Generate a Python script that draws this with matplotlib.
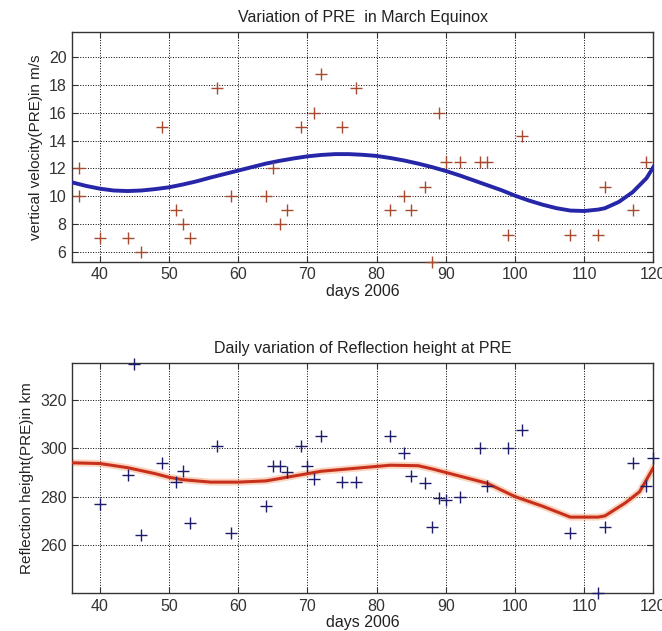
import matplotlib
matplotlib.use("Agg")
import matplotlib.pyplot as plt

plt.rcParams['font.family'] = ['Liberation Sans', 'DejaVu Sans']
plt.rcParams['font.size'] = 11

# PRE vertical velocity (m/s) per day
vel_days = [37, 37, 40, 44, 46, 49, 51, 52, 53, 57, 59, 64, 65, 66, 67, 69, 71, 72,
            75, 77, 82, 84, 85, 87, 88, 89, 90, 92, 95, 96, 99, 101, 108, 112, 113,
            117, 119]
vel_vals = [12, 10, 7, 7, 6, 15, 9, 8, 7, 17.8, 10, 10, 12, 8, 9, 15, 16, 18.8,
            15, 17.8, 9, 10, 9, 10.7, 5.3, 16, 12.5, 12.5, 12.5, 12.5, 7.2, 14.3, 7.2,
            7.2, 10.7, 9, 12.5]

# fitted trend of the velocity
vel_fit_days = [36, 38, 40, 42, 44, 46, 48, 50, 52, 54, 56, 58, 60, 62, 64, 66, 68,
                70, 72, 74, 76, 78, 80, 82, 84, 86, 88, 90, 92, 94, 96, 98, 100, 102,
                104, 106, 108, 110, 112, 113, 115, 117, 119, 120]
vel_fit_vals = [11.0, 10.75, 10.55, 10.42, 10.38, 10.42, 10.52, 10.65, 10.85, 11.08,
                11.35, 11.6, 11.85, 12.1, 12.35, 12.55, 12.72, 12.87, 12.97, 13.03,
                13.03, 12.98, 12.9, 12.75, 12.57, 12.35, 12.1, 11.82, 11.5, 11.15,
                10.8, 10.45, 10.05, 9.7, 9.4, 9.15, 8.98, 8.95, 9.05, 9.15, 9.6, 10.3,
                11.3, 12.1]

# reflection height (km) per day
hgt_days = [40, 44, 45, 46, 49, 51, 52, 53, 57, 59, 64, 65, 66, 67, 69, 70, 71, 72,
            75, 77, 82, 84, 85, 87, 88, 89, 90, 92, 95, 96, 99, 101, 108, 112, 113,
            117, 119, 120]
hgt_vals = [277, 289, 335, 264, 294, 286, 290.5, 269, 301, 265, 276, 292.5, 292.5, 290,
            301, 292.5, 287.5, 305, 286, 286, 305, 298, 288.5, 285.5, 267.5, 279.5,
            278.5, 280, 300, 284.5, 300, 307.5, 265, 240, 267.5, 294, 284.5, 296]

hgt_fit_days = [36, 40, 44, 48, 50, 52, 54, 56, 60, 64, 66, 68, 70, 72, 76, 80, 82, 86,
                88, 90, 96, 100, 104, 108, 112, 113, 116, 118, 120]
hgt_fit_vals = [294, 293.7, 292, 289.5, 288, 287, 286.5, 286, 286, 286.5, 287.5, 288.5,
                289.5, 290.5, 291.5, 292.5, 293, 292.8, 291.5, 290, 285.5, 280, 276,
                271.5, 271.5, 272, 277.5, 282, 292]

x_ticks = [40, 50, 60, 70, 80, 90, 100, 110, 120]


def style_axes(ax):
    ax.set_xlim(36, 120)
    ax.set_xticks(x_ticks)
    ax.grid(True, linestyle=':', color='black', linewidth=0.7)
    ax.tick_params(direction='in', top=True, right=True, length=4, width=0.8,
                   labelsize=11.5, colors='#333333', pad=4)
    for s in ax.spines.values():
        s.set_linewidth(1.0)
        s.set_color('#333333')
    ax.set_xlabel('days 2006', fontsize=11.5, labelpad=1, color='#222222')


fig = plt.figure(figsize=(6.62, 6.31), dpi=100)

ax1 = fig.add_axes([0.109, 0.585, 0.878, 0.3645])
ax1.plot(vel_fit_days, vel_fit_vals, color='#2626a8', linewidth=2.8, zorder=3)
ax1.plot(vel_days, vel_vals, linestyle='none', marker='+', markersize=8,
         markeredgewidth=1.0, color='#a84a30', clip_on=False, zorder=4)
ax1.set_ylim(5.3, 21.8)
ax1.set_yticks([6, 8, 10, 12, 14, 16, 18, 20])
style_axes(ax1)
ax1.set_ylabel('vertical velocity(PRE)in m/s', fontsize=11, color='#222222')
ax1.set_title('Variation of PRE  in March Equinox', fontsize=11.5, pad=7,
              color='#222222')

ax2 = fig.add_axes([0.109, 0.060, 0.878, 0.3645])
ax2.plot(hgt_fit_days, hgt_fit_vals, color='#f4a070', linewidth=5, alpha=0.45, zorder=2)
ax2.plot(hgt_fit_days, hgt_fit_vals, color='#c8301c', linewidth=2.2, zorder=3)
ax2.plot(hgt_days, hgt_vals, linestyle='none', marker='+', markersize=8,
         markeredgewidth=1.0, color='#1c1c6a', clip_on=False, zorder=4)
ax2.set_ylim(240, 335.3)
ax2.set_yticks([260, 280, 300, 320])
style_axes(ax2)
ax2.set_ylabel('Reflection height(PRE)in km', fontsize=11, color='#222222')
ax2.set_title('Daily variation of Reflection height at PRE', fontsize=11.5, pad=7,
              color='#222222')

fig.savefig('out.png', dpi=100)
